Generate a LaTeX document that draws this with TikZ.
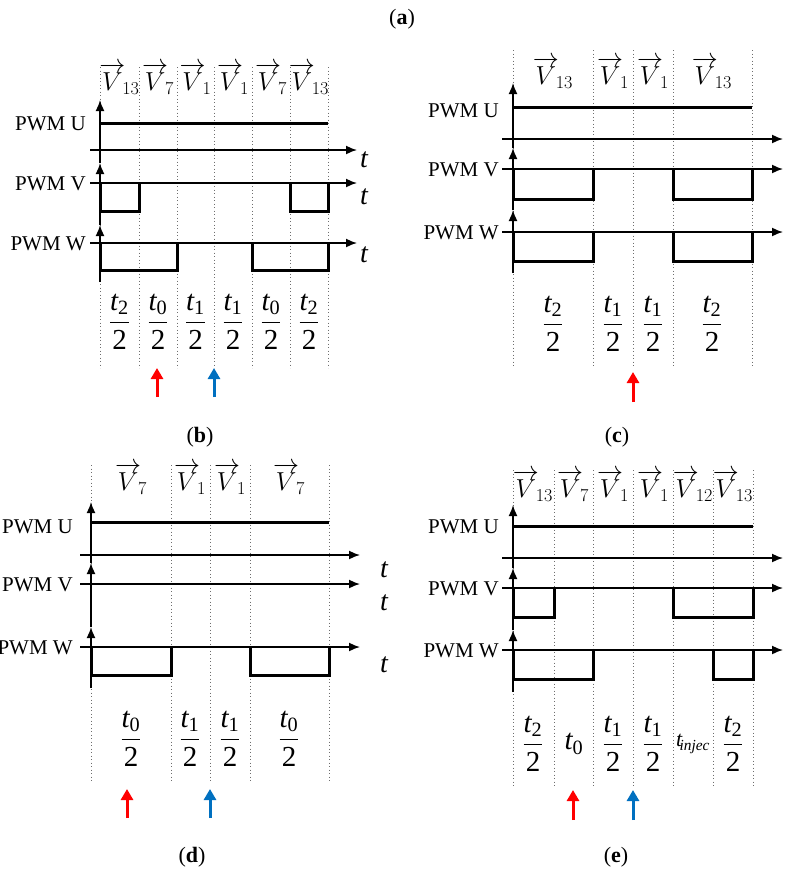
\RequirePackage{fix-cm}
\documentclass[tikz,border=0pt]{standalone}
\usepackage{amsmath}
\usepackage{fontspec}
\setmainfont{Liberation Serif}
\usetikzlibrary{arrows.meta}
\definecolor{myblue}{RGB}{0,112,192}
\definecolor{myred}{RGB}{255,0,0}
\definecolor{dotgray}{RGB}{110,110,110}
\newcommand{\myfr}[1]{$\dfrac{\textit{t}_{\text{#1}}}{\text{2}}$}
\newcommand{\vlab}[1]{$\overrightarrow{V}_{\!#1}$}
\tikzset{
  pwm/.style={anchor=east, font=\fontsize{21}{24}\selectfont, inner sep=0pt},
  vec/.style={font=\fontsize{26}{28}\selectfont, inner sep=0pt},
  frc/.style={font=\fontsize{29}{32}\selectfont, inner sep=0pt},
  tl/.style={font=\fontsize{28}{30}\selectfont\itshape, inner sep=0pt},
  captxt/.style={font=\fontsize{22}{26}\selectfont, inner sep=0pt},
  sig/.style={line width=3pt, line join=miter},
  ax/.style={line width=1.6pt, -{Latex[length=11pt,width=9pt]}},
  grid/.style={dotgray, line width=0.9pt, dash pattern=on 0.9pt off 2.6pt},
  hl/.style={line width=3pt, -{Triangle[length=11pt,width=12pt]}}
}
\begin{document}
\begin{tikzpicture}[x=1pt,y=-1pt]
\useasboundingbox (0,0) rectangle (806,870);
\fill[white] (0,0) rectangle (806,870);
\node[captxt] (capa) at (402,19) {(\textbf{a})};

% ================= (b) =================
\foreach \x in {100,139,177,214,252,290,328} \draw[grid] (\x,67) -- (\x,368);
\node[vec] (b1) at (119.5,79) {\vlab{13}};
\node[vec] (b2) at (158,79) {\vlab{7}};
\node[vec] (b3) at (195.5,79) {\vlab{1}};
\node[vec] (b4) at (233,79) {\vlab{1}};
\node[vec] (b5) at (271,79) {\vlab{7}};
\node[vec] (b6) at (309,79) {\vlab{13}};
\node[pwm] (bu) at (86,124) {PWM U};
\node[pwm] (bv) at (86,184) {PWM V};
\node[pwm] (bw) at (86,244) {PWM W};
\draw[ax] (100,282) -- (100,225);
\draw[ax] (100,225) -- (100,163);
\draw[ax] (100,163) -- (100,100);
\draw[ax] (90,150) -- (357,150);
\draw[ax] (90,183) -- (357,183);
\draw[ax] (90,243) -- (357,243);
\node[tl] (bt1) at (364,160) {t};
\node[tl] (bt2) at (364,197) {t};
\node[tl] (bt3) at (364,255) {t};
\draw[sig] (100,123) -- (328,123);
\draw[sig] (100,183) -- (100,211) -- (139,211) -- (139,183);
\draw[sig] (290,183) -- (290,211) -- (328,211) -- (328,183);
\draw[sig] (100,243) -- (100,270) -- (177,270) -- (177,243);
\draw[sig] (252,243) -- (252,270) -- (328,270) -- (328,243);
\node[frc] (bf1) at (119.5,322) {\myfr{2}};
\node[frc] (bf2) at (158,322) {\myfr{0}};
\node[frc] (bf3) at (195.5,322) {\myfr{1}};
\node[frc] (bf4) at (233,322) {\myfr{1}};
\node[frc] (bf5) at (271,322) {\myfr{0}};
\node[frc] (bf6) at (309,322) {\myfr{2}};
\coordinate (bra) at (157,397); \coordinate (brb) at (157,368);
\coordinate (bba) at (214,397); \coordinate (bbb) at (214,368);
\draw[hl,myred] (bra) -- (brb);
\draw[hl,myblue] (bba) -- (bbb);
\node[captxt] (capb) at (200,437) {(\textbf{b})};

% ================= (c) =================
\foreach \x in {513,593,633,673,752} \draw[grid] (\x,50) -- (\x,368);
\node[vec] (c1) at (553,73) {\vlab{13}};
\node[vec] (c2) at (613,73) {\vlab{1}};
\node[vec] (c3) at (653,73) {\vlab{1}};
\node[vec] (c4) at (712,73) {\vlab{13}};
\node[pwm] (cu) at (499,111) {PWM U};
\node[pwm] (cv) at (499,170) {PWM V};
\node[pwm] (cw) at (499,233) {PWM W};
\draw[ax] (513,273) -- (513,210);
\draw[ax] (513,210) -- (513,148);
\draw[ax] (513,148) -- (513,83);
\draw[ax] (502,139) -- (783,139);
\draw[ax] (502,169) -- (783,169);
\draw[ax] (502,232) -- (783,232);
\node[tl] (ct1) at (811,157) {t};
\node[tl] (ct2) at (811,190) {t};
\node[tl] (ct3) at (811,252) {t};
\draw[sig] (513,107) -- (752,107);
\draw[sig] (513,169) -- (513,199) -- (593,199) -- (593,169);
\draw[sig] (673,169) -- (673,199) -- (752,199) -- (752,169);
\draw[sig] (513,232) -- (513,261) -- (593,261) -- (593,232);
\draw[sig] (673,232) -- (673,261) -- (752,261) -- (752,232);
\node[frc] (cf1) at (553,324) {\myfr{2}};
\node[frc] (cf2) at (613,324) {\myfr{1}};
\node[frc] (cf3) at (653,324) {\myfr{1}};
\node[frc] (cf4) at (712,324) {\myfr{2}};
\coordinate (cra) at (633,402); \coordinate (crb) at (633,372);
\draw[hl,myred] (cra) -- (crb);
\node[captxt] (capc) at (617,437) {(\textbf{c})};

% ================= (d) =================
\foreach \x in {91,171,210,250,329} \draw[grid] (\x,465) -- (\x,783);
\node[vec] (d1) at (131,479) {\vlab{7}};
\node[vec] (d2) at (190,479) {\vlab{1}};
\node[vec] (d3) at (230,479) {\vlab{1}};
\node[vec] (d4) at (289,479) {\vlab{7}};
\node[pwm] (du) at (73,527) {PWM U};
\node[pwm] (dv) at (73,585) {PWM V};
\node[pwm] (dw) at (73,648) {PWM W};
\draw[ax] (91,688) -- (91,627);
\draw[ax] (91,627) -- (91,563);
\draw[ax] (91,563) -- (91,502);
\draw[ax] (80,555) -- (360,555);
\draw[ax] (80,584) -- (360,584);
\draw[ax] (80,647) -- (360,647);
\node[tl] (dt1) at (384,570) {t};
\node[tl] (dt2) at (384,603) {t};
\node[tl] (dt3) at (384,665) {t};
\draw[sig] (91,522) -- (329,522);
\draw[sig] (91,647) -- (91,675) -- (171,675) -- (171,647);
\draw[sig] (250,647) -- (250,675) -- (329,675) -- (329,647);
\node[frc] (df1) at (131,739) {\myfr{0}};
\node[frc] (df2) at (190,739) {\myfr{1}};
\node[frc] (df3) at (230,739) {\myfr{1}};
\node[frc] (df4) at (289,739) {\myfr{0}};
\coordinate (dra) at (127,818); \coordinate (drb) at (127,789);
\coordinate (dba) at (210,818); \coordinate (dbb) at (210,789);
\draw[hl,myred] (dra) -- (drb);
\draw[hl,myblue] (dba) -- (dbb);
\node[captxt] (capd) at (192,857) {(\textbf{d})};

% ================= (e) =================
\foreach \x in {513,554,593,633,673,713,753} \draw[grid] (\x,470) -- (\x,787);
\node[vec] (e1) at (533,486) {\vlab{13}};
\node[vec] (e2) at (573,486) {\vlab{7}};
\node[vec] (e3) at (613,486) {\vlab{1}};
\node[vec] (e4) at (653,486) {\vlab{1}};
\node[vec] (e5) at (693,486) {\vlab{12}};
\node[vec] (e6) at (733,486) {\vlab{13}};
\node[pwm] (eu) at (499,527) {PWM U};
\node[pwm] (ev) at (499,589) {PWM V};
\node[pwm] (ew) at (499,651) {PWM W};
\draw[ax] (513,692) -- (513,630);
\draw[ax] (513,630) -- (513,568);
\draw[ax] (513,568) -- (513,505);
\draw[ax] (502,558) -- (783,558);
\draw[ax] (502,588) -- (783,588);
\draw[ax] (502,650) -- (783,650);
\node[tl] (et1) at (811,577) {t};
\node[tl] (et2) at (811,610) {t};
\node[tl] (et3) at (811,672) {t};
\draw[sig] (513,526) -- (753,526);
\draw[sig] (513,588) -- (513,617) -- (554,617) -- (554,588);
\draw[sig] (673,588) -- (673,617) -- (753,617) -- (753,588);
\draw[sig] (513,650) -- (513,679) -- (593,679) -- (593,650);
\draw[sig] (713,650) -- (713,679) -- (753,679) -- (753,650);
\node[frc] (ef1) at (533,744) {\myfr{2}};
\node[frc] (ef2) at (574,744) {$\textit{t}_{\text{0}}$};
\node[frc] (ef3) at (613,744) {\myfr{1}};
\node[frc] (ef4) at (653,744) {\myfr{1}};
\node[frc,font=\fontsize{22}{24}\selectfont] (ef5) at (693,744) {$\textit{t}_{\!\textit{injec}}$};
\node[frc] (ef6) at (733,744) {\myfr{2}};
\coordinate (era) at (573,820); \coordinate (erb) at (573,790);
\coordinate (eba) at (633,820); \coordinate (ebb) at (633,790);
\draw[hl,myred] (era) -- (erb);
\draw[hl,myblue] (eba) -- (ebb);
\node[captxt] (cape) at (616,857) {(\textbf{e})};
\end{tikzpicture}
\end{document}
